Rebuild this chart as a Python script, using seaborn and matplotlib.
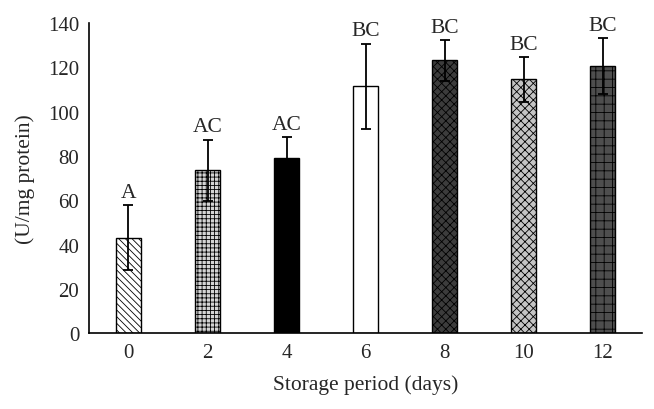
import matplotlib
matplotlib.use("Agg")
import matplotlib.pyplot as plt
import seaborn as sns
import pandas as pd
import numpy as np

days = ["0", "2", "4", "6", "8", "10", "12"]
activity = [43.2, 73.5, 79.0, 111.5, 123.2, 114.6, 120.5]
sd = [14.5, 13.8, 9.6, 19.2, 9.2, 10.0, 12.6]
letters = ["A", "AC", "AC", "BC", "BC", "BC", "BC"]
y_ticks = [0, 20, 40, 60, 80, 100, 120, 140]

faces = ["white", "#d4d4d4", "black", "white", "#3c3c3c", "#c4c4c4", "#4e4e4e"]
hatches = ["\\\\\\\\\\", "++++", None, None, "xxxx", "xxxx", "++"]
hatch_colors = ["black", "#8a8a8a", "black", "black", "white", "#8a8a8a", "#666666"]

sns.set_style("white")
plt.rcParams["font.family"] = ["Liberation Serif", "DejaVu Serif"]
plt.rcParams["hatch.linewidth"] = 0.6

df = pd.DataFrame({"day": days, "val": activity})

fig = plt.figure(figsize=(6.54, 4.10), dpi=100)
ax = fig.add_axes([0.136, 0.185, 0.846, 0.756])
sns.barplot(data=df, x="day", y="val", order=days, width=0.31, ax=ax,
            color="white", edgecolor="black", linewidth=1.0, errorbar=None)

for p, fc, h, hc in zip(ax.patches, faces, hatches, hatch_colors):
    p.set_facecolor(fc)
    p.set_edgecolor("black")
    if h:
        p.set_hatch(h)
        try:
            p.set_hatchcolor(hc)
        except Exception:
            pass

xs = np.arange(len(days))
ax.errorbar(xs, activity, yerr=sd, fmt="none", ecolor="black",
            elinewidth=1.3, capsize=3.5, capthick=1.3, zorder=5)

for x, v, e, t in zip(xs, activity, sd, letters):
    ax.annotate(t, (x, v + e), xytext=(0, 2.5), textcoords="offset points",
                ha="center", va="bottom", fontsize=15.5)

ax.set_ylim(0, 140)
ax.set_xlim(-0.5, len(days) - 0.5)
ax.set_yticks(y_ticks)
ax.tick_params(axis="both", length=0, labelsize=15, pad=7)
ax.set_xlabel("Storage period (days)", fontsize=15.5, labelpad=9)
ax.set_ylabel("(U/mg protein)", fontsize=15.5, labelpad=9)
for s in ["top", "right"]:
    ax.spines[s].set_visible(False)
for s in ["left", "bottom"]:
    ax.spines[s].set_color("black")
    ax.spines[s].set_linewidth(1.2)

fig.savefig("out.png", dpi=100)
